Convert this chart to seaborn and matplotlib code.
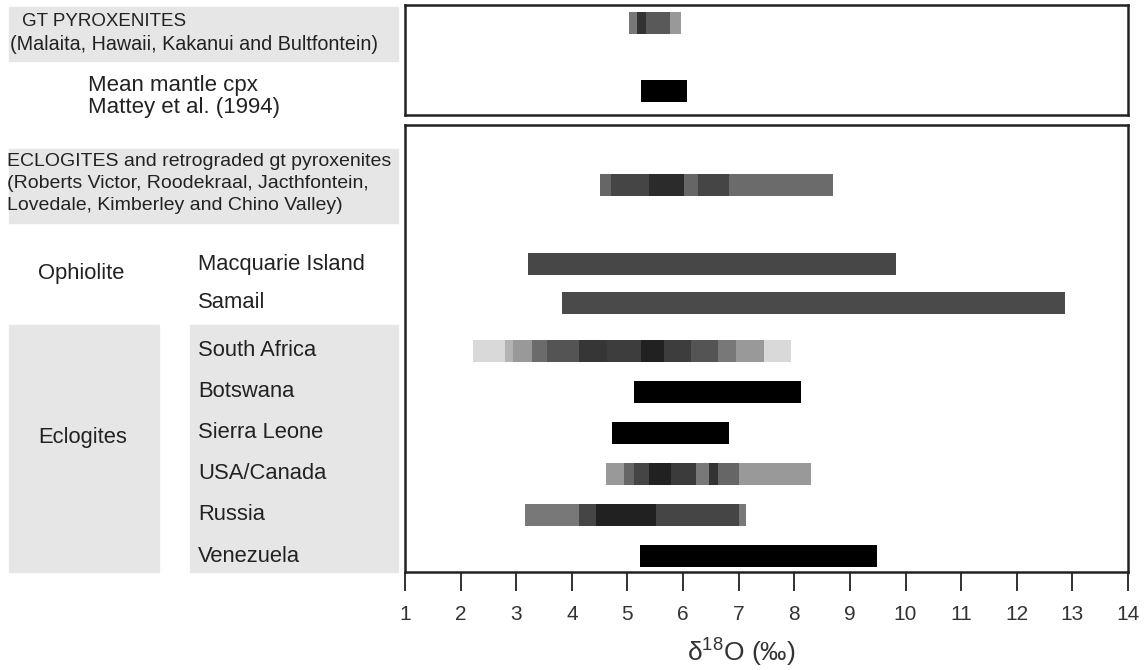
import seaborn as sns
import matplotlib.pyplot as plt
import matplotlib.patches as mpatches
import matplotlib.transforms as mtransforms
import pandas as pd

# Data: d18O ranges, each row split into shaded segments (edges + darkness 0..1)
top_rows = ['GT pyroxenites', 'Mean mantle cpx']
gt_edges = [5.03, 5.18, 5.33, 5.77, 5.96]
gt_dark = [0.53, 0.80, 0.65, 0.40]
mantle_edges = [5.24, 6.07]
mantle_dark = [1.0]

bottom_rows = ['Eclogites+retro', 'Macquarie Island', 'Samail', 'South Africa', 'Botswana',
               'Sierra Leone', 'USA/Canada', 'Russia', 'Venezuela']
ecl_edges = [4.50, 4.70, 5.38, 6.01, 6.26, 6.82, 8.70]
ecl_dark = [0.60, 0.73, 0.83, 0.60, 0.73, 0.58]
macq_edges = [3.22, 9.82]
macq_dark = [0.72]
samail_edges = [3.83, 12.86]
samail_dark = [0.71]
sa_edges = [2.22, 2.80, 2.95, 3.29, 3.56, 4.12, 4.64, 5.24, 5.65, 6.14, 6.62, 6.95, 7.46, 7.94]
sa_dark = [0.15, 0.30, 0.40, 0.58, 0.67, 0.79, 0.76, 0.87, 0.76, 0.67, 0.53, 0.40, 0.15]
botswana_edges = [5.11, 8.12]
botswana_dark = [1.0]
sierra_edges = [4.73, 6.82]
sierra_dark = [1.0]
usa_edges = [4.61, 4.93, 5.11, 5.38, 5.78, 6.23, 6.46, 6.62, 7.00, 8.30]
usa_dark = [0.40, 0.60, 0.73, 0.87, 0.77, 0.53, 0.80, 0.60, 0.40]
russia_edges = [3.15, 4.12, 4.43, 5.51, 7.00, 7.13]
russia_dark = [0.53, 0.73, 0.87, 0.73, 0.53]
venez_edges = [5.22, 9.48]
venez_dark = [1.0]

row_labels = ['Macquarie Island', 'Samail', 'South Africa', 'Botswana',
              'Sierra Leone', 'USA/Canada', 'Russia', 'Venezuela']
x_ticks = list(range(1, 15))


def segments(panel, row, edges, dark):
    return [{'panel': panel, 'row': row, 'start': edges[i], 'end': edges[i + 1], 'dark': dark[i]}
            for i in range(len(dark))]


recs = []
recs += segments('top', top_rows[0], gt_edges, gt_dark)
recs += segments('top', top_rows[1], mantle_edges, mantle_dark)
for name, e, d in zip(bottom_rows,
                      [ecl_edges, macq_edges, samail_edges, sa_edges, botswana_edges,
                       sierra_edges, usa_edges, russia_edges, venez_edges],
                      [ecl_dark, macq_dark, samail_dark, sa_dark, botswana_dark,
                       sierra_dark, usa_dark, russia_dark, venez_dark]):
    recs += segments('bottom', name, e, d)
df = pd.DataFrame(recs)

# layout (row positions in axis units, 1 unit ~ 41 px)
top_pos = {top_rows[0]: 2.24, top_rows[1]: 0.58}
bottom_pos = dict(zip(bottom_rows, [9.05, 7.12, 6.17, 5, 4, 3, 2, 1, 0]))

sns.set_theme(style='white')
plt.rcParams['font.family'] = ['Liberation Sans', 'DejaVu Sans']
plt.rcParams['mathtext.fontset'] = 'custom'
plt.rcParams['mathtext.rm'] = 'Liberation Sans'

W, H = 1145, 670
fig = plt.figure(figsize=(W / 100, H / 100), dpi=100)


def fx(x):
    return x / W


def fy(y):
    return 1 - y / H


ax_top = fig.add_axes([fx(405), fy(115), fx(723), 110 / H])
ax = fig.add_axes([fx(405), fy(572), fx(723), 447 / H])

for a, panel, pos in [(ax_top, 'top', top_pos), (ax, 'bottom', bottom_pos)]:
    sub = df[df['panel'] == panel]
    a.barh([pos[r] for r in sub['row']], sub['end'] - sub['start'], left=sub['start'],
           height=0.54, color=[str(round(1 - d, 3)) for d in sub['dark']], linewidth=0)
    a.set_xlim(1, 14)
    a.set_yticks([])
    for s in a.spines.values():
        s.set_color('#222222')
        s.set_linewidth(1.8)

ax_top.set_ylim(0, 110 / 41)
ax_top.set_xticks([])
ax.set_ylim(-0.39, 10.51)
ax.set_xticks(x_ticks)
ax.tick_params(axis='x', bottom=True, direction='out', length=14, width=1.3, color='#222222',
               labelsize=15, labelcolor='#333333', pad=10)
ax.set_xlabel('δ$^{18}$O (‰)', fontsize=19, color='#333333')
ax.xaxis.set_label_coords(0.465, -0.142)

# left side gray boxes (pixel rectangles)
box_color = '#e6e6e6'
for x0, y0, x1, y1 in [(9, 7, 398, 61), (9, 149, 398, 223), (9, 325, 159, 572), (190, 325, 398, 572)]:
    fig.patches.append(mpatches.Rectangle((fx(x0), fy(y1)), fx(x1 - x0), (y1 - y0) / H,
                                          transform=fig.transFigure, color=box_color, zorder=-5))

txt = dict(color='#222222', va='center', ha='left')
fig.text(fx(22), fy(22), 'GT PYROXENITES', fontsize=13.5, **txt)
fig.text(fx(10), fy(44), '(Malaita, Hawaii, Kakanui and Bultfontein)', fontsize=14.2, **txt)
fig.text(fx(88), fy(86), 'Mean mantle cpx', fontsize=16, **txt)
fig.text(fx(88), fy(108), 'Mattey et al. (1994)', fontsize=16, **txt)
fig.text(fx(7), fy(162), 'ECLOGITES and retrograded gt pyroxenites', fontsize=14, **txt)
fig.text(fx(7), fy(184), '(Roberts Victor, Roodekraal, Jacthfontein,', fontsize=14, **txt)
fig.text(fx(7), fy(206), 'Lovedale, Kimberley and Chino Valley)', fontsize=14, **txt)
fig.text(fx(38), fy(273), 'Ophiolite', fontsize=15.8, **txt)
fig.text(fx(38), fy(438), 'Eclogites', fontsize=15.8, **txt)

blend = mtransforms.blended_transform_factory(fig.transFigure, ax.transData)
for lab in row_labels:
    fig.text(fx(198), bottom_pos[lab], lab, transform=blend, fontsize=15.8, zorder=5, **txt)

fig.savefig('out.png', dpi=100)
